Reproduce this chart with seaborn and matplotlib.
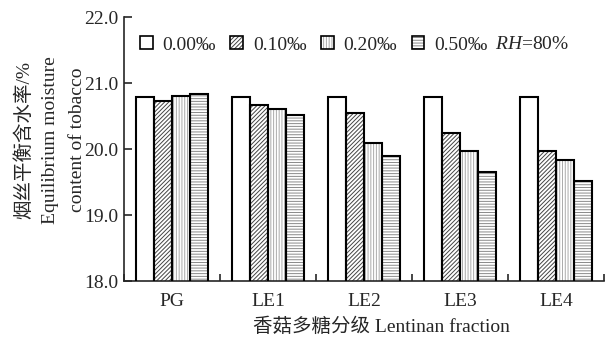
import numpy as np
import pandas as pd
import matplotlib
matplotlib.use("Agg")
import matplotlib.pyplot as plt
import seaborn as sns
from matplotlib.patches import Patch, Rectangle

# ------------------------
# data
# ------------------------
fractions = ["PG", "LE1", "LE2", "LE3", "LE4"]
conc_labels = ["0.00‰", "0.10‰", "0.20‰", "0.50‰"]
emc_000 = [20.79, 20.79, 20.79, 20.79, 20.79]
emc_010 = [20.73, 20.67, 20.54, 20.25, 19.97]
emc_020 = [20.81, 20.61, 20.09, 19.97, 19.83]
emc_050 = [20.84, 20.52, 19.89, 19.65, 19.52]
y_ticks = [18.0, 19.0, 20.0, 21.0, 22.0]

df = pd.DataFrame({
    "fraction": fractions * 4,
    "conc": sum([[c] * len(fractions) for c in conc_labels], []),
    "emc": emc_000 + emc_010 + emc_020 + emc_050,
})

sns.set_style("ticks")
plt.rcParams["font.family"] = ["Liberation Serif", "Noto Sans CJK SC"]
plt.rcParams["font.size"] = 14
plt.rcParams["hatch.linewidth"] = 0.7
plt.rcParams["mathtext.fontset"] = "custom"
plt.rcParams["mathtext.rm"] = "Liberation Serif"
plt.rcParams["mathtext.it"] = "Liberation Serif:italic"

hatches = ["", "////////", "||||||", "------"]
hatch_cols = ["white", "#444444", "#aaaaaa", "#8a8a8a"]

fig = plt.figure(figsize=(6.08, 3.37), dpi=100)
ax = fig.add_axes([124 / 608, 1 - 281 / 337, 480 / 608, 264 / 337])

sns.barplot(data=df, x="fraction", y="emc", hue="conc", order=fractions,
            hue_order=conc_labels, palette=["white"] * 4, saturation=1,
            width=0.75, linewidth=0, legend=False, errorbar=None, ax=ax)

# hatch in grey, outline in black drawn on top
for i, cont in enumerate(ax.containers):
    for bar in cont:
        bar.set_hatch(hatches[i])
        bar.set_edgecolor(hatch_cols[i])
        bar.set_linewidth(0)
        ax.add_patch(Rectangle(bar.get_xy(), bar.get_width(), bar.get_height(),
                               fill=False, edgecolor="black", lw=1.5, zorder=3))

ax.set_ylim(18, 22)
ax.set_xlim(-0.5, len(fractions) - 0.5)
ax.set_yticks(y_ticks)
ax.set_yticklabels([f"{v:.1f}" for v in y_ticks])
ax.set_xticks(np.arange(len(fractions) + 1) - 0.5, minor=True)
ax.tick_params(axis="x", which="major", length=0, pad=9)
ax.tick_params(axis="x", which="minor", direction="in", length=5, width=1.2)
ax.tick_params(axis="y", direction="in", length=6, width=1.2, pad=4)
ax.set_xlabel("")
ax.set_ylabel("")
for s in ["top", "right"]:
    ax.spines[s].set_visible(False)
for s in ["left", "bottom"]:
    ax.spines[s].set_linewidth(1.2)

handles = [(Patch(facecolor="white", hatch=h, edgecolor=c, lw=0),
            Patch(fill=False, edgecolor="black", lw=1.2))
           for h, c in zip(hatches, hatch_cols)]
ax.legend(handles, conc_labels, ncol=4, frameon=False, loc="center left",
          bbox_to_anchor=((140 - 124) / 480, 0.894), handlelength=0.65,
          handleheight=0.65, handletextpad=0.5, columnspacing=0.75,
          borderpad=0, borderaxespad=0)
ax.text((495 - 124) / 480, 0.894, r"$\it{RH}$=80%", transform=ax.transAxes,
        ha="left", va="center")

fig.text(381 / 608, 1 - 327 / 337, "香菇多糖分级 Lentinan fraction",
         ha="center", va="center")
ylab = ["烟丝平衡含水率/%", "Equilibrium moisture", "content of tobacco"]
for xp, t in zip([24, 51, 77], ylab):
    fig.text(xp / 608, 1 - 140 / 337, t, rotation=90, ha="center", va="center")

fig.savefig("out.png", dpi=100)
